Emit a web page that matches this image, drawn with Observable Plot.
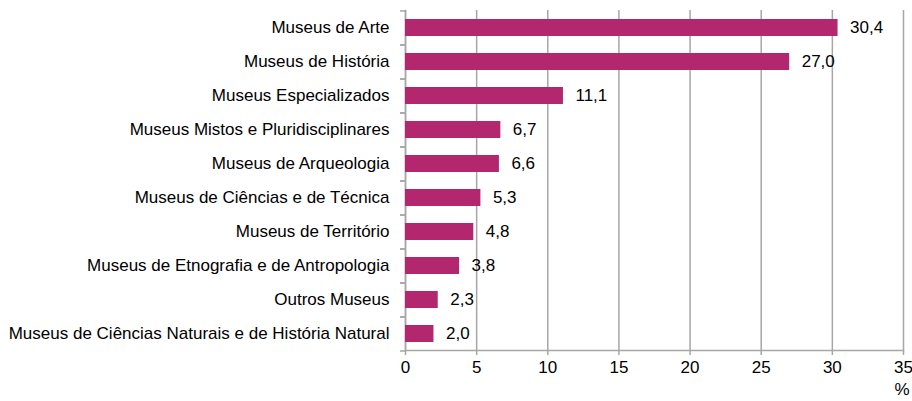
<!DOCTYPE html>
<html><head><meta charset="utf-8">
<script src="https://cdn.jsdelivr.net/npm/d3@7"></script>
<script src="https://cdn.jsdelivr.net/npm/@observablehq/plot@0.6"></script>
<style>
body{margin:0;background:#fff;}
svg, svg text{font-family:"Liberation Sans",Arial,sans-serif !important;}
</style></head>
<body><div id="chart"></div>
<script>
const categories = [
  "Museus de Arte",
  "Museus de História",
  "Museus Especializados",
  "Museus Mistos e Pluridisciplinares",
  "Museus de Arqueologia",
  "Museus de Ciências e de Técnica",
  "Museus de Território",
  "Museus de Etnografia e de Antropologia",
  "Outros Museus",
  "Museus de Ciências Naturais e de História Natural"
];
const values = [30.4, 27.0, 11.1, 6.7, 6.6, 5.3, 4.8, 3.8, 2.3, 2.0];
const xTicks = [0, 5, 10, 15, 20, 25, 30, 35];
const unitLabel = "%";

const data = categories.map((c, i) => ({category: c, value: values[i]}));
const fmt = v => v.toFixed(1).replace(".", ",");
const gray = "#a6a6a6";
const barColor = "#b3276e";
const fs = 17;

const chart = Plot.plot({
  width: 912,
  height: 401,
  marginLeft: 405,
  marginRight: 9,
  marginTop: 10,
  marginBottom: 51,
  style: {fontSize: fs + "px", fontFamily: "'Liberation Sans', Arial, sans-serif", color: "#000", background: "#fff"},
  x: {domain: [0, 35], ticks: xTicks},
  y: {domain: categories, paddingInner: 0.5, paddingOuter: 0.25},
  marks: [
    Plot.gridX(xTicks, {stroke: gray, strokeOpacity: 1, strokeWidth: 1.5}),
    Plot.frame({anchor: "bottom", stroke: gray, strokeWidth: 1.5}),
    Plot.frame({anchor: "left", stroke: gray, strokeWidth: 1.5}),
    Plot.axisX({ticks: xTicks, tickSize: 5, tickPadding: 5, stroke: gray, strokeWidth: 1.5, fill: "#000", fontSize: fs,
      label: unitLabel, labelAnchor: "right", labelArrow: "none", labelOffset: 44}),
    Plot.axisY({tickSize: 5, dy: -17, text: null, stroke: gray, strokeWidth: 1.5, label: null}),
    Plot.axisY({tickSize: 5, dy: 17, text: null, stroke: gray, strokeWidth: 1.5, label: null}),
    Plot.axisY({tickSize: 0, tickPadding: 16, fill: "#000", fontSize: fs, label: null}),
    Plot.barX(data, {x: "value", y: "category", fill: barColor}),
    Plot.text(data, {x: "value", y: "category", text: d => fmt(d.value), dx: 12, textAnchor: "start", fill: "#000", fontSize: fs})
  ]
});
document.getElementById("chart").appendChild(chart);
</script>
</body></html>
